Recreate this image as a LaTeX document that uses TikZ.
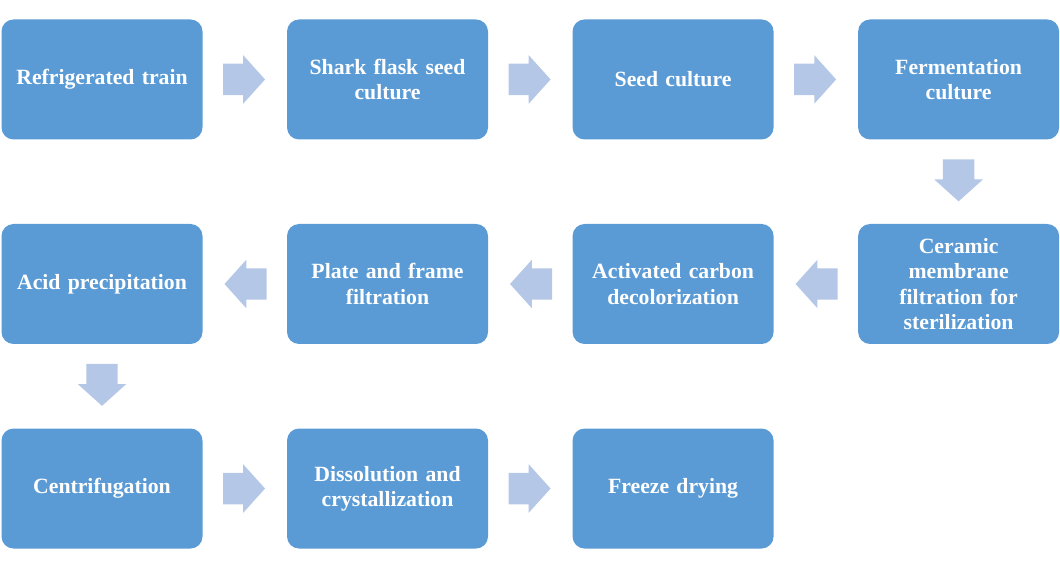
\documentclass[tikz,border=0pt]{standalone}
\usepackage{fontspec}
\setmainfont{Liberation Serif}
\usetikzlibrary{shapes.arrows,calc,positioning}
\definecolor{boxblue}{HTML}{5B9BD5}
\definecolor{arrowblue}{HTML}{B4C7E7}

\begin{document}
\begin{tikzpicture}[node distance=63pt and 63pt,
        every node/.style={align=center},
        stage/.style={fill=boxblue,rounded corners=9pt,minimum width=150.75pt,minimum height=90pt,
            text=white,font=\fontsize{16.3}{19}\selectfont\bfseries,text width=140pt,inner sep=0pt},
        flow/.style={single arrow,fill=arrowblue,inner xsep=0pt,inner ysep=11.6pt,minimum height=31.5pt,
            single arrow head extend=6.4pt,single arrow tip angle=96,anchor=tail}]

                \useasboundingbox (0,0) rectangle (795pt,-424.5pt);

                % first row, left to right
                \node[stage] (train) at (76.5pt,-59.6pt) {Refrigerated train};
                \node[stage,right=of train] (shake) {Shark flask seed\\culture};
                \node[stage,right=of shake] (seed) {Seed culture};
                \node[stage,right=of seed] (ferm) {Fermentation\\culture};

                % second row, right to left
                \node[stage,below=of ferm] (ceram) {Ceramic\\membrane\\filtration for\\sterilization};
                \node[stage,left=of ceram] (carbon) {Activated carbon\\decolorization};
                \node[stage,left=of carbon] (plate) {Plate and frame\\filtration};
                \node[stage,left=of plate] (acid) {Acid precipitation};

                % third row, left to right
                \node[stage,below=of acid] (centr) {Centrifugation};
                \node[stage,right=of centr] (dissol) {Dissolution and\\crystallization};
                \node[stage,right=of dissol] (freeze) {Freeze drying};

                % block arrows between the stages
                \node[flow] (a1) at ($(train.east)!0.5!(shake.west)+(-16.5pt,0)$) {};
                \node[flow] (a2) at ($(shake.east)!0.5!(seed.west)+(-16.5pt,0)$) {};
                \node[flow] (a3) at ($(seed.east)!0.5!(ferm.west)+(-16.5pt,0)$) {};
                \node[flow,rotate=-90] (a4) at ($(ferm.south)!0.5!(ceram.north)+(0,17pt)$) {};
                \node[flow,rotate=180] (a5) at ($(ceram.west)!0.5!(carbon.east)+(16.5pt,0)$) {};
                \node[flow,rotate=180] (a6) at ($(carbon.west)!0.5!(plate.east)+(16.5pt,0)$) {};
                \node[flow,rotate=180] (a7) at ($(plate.west)!0.5!(acid.east)+(16.5pt,0)$) {};
                \node[flow,rotate=-90] (a8) at ($(acid.south)!0.5!(centr.north)+(0,17pt)$) {};
                \node[flow] (a9) at ($(centr.east)!0.5!(dissol.west)+(-16.5pt,0)$) {};
                \node[flow] (a10) at ($(dissol.east)!0.5!(freeze.west)+(-16.5pt,0)$) {};

            \end{tikzpicture}
\end{document}
